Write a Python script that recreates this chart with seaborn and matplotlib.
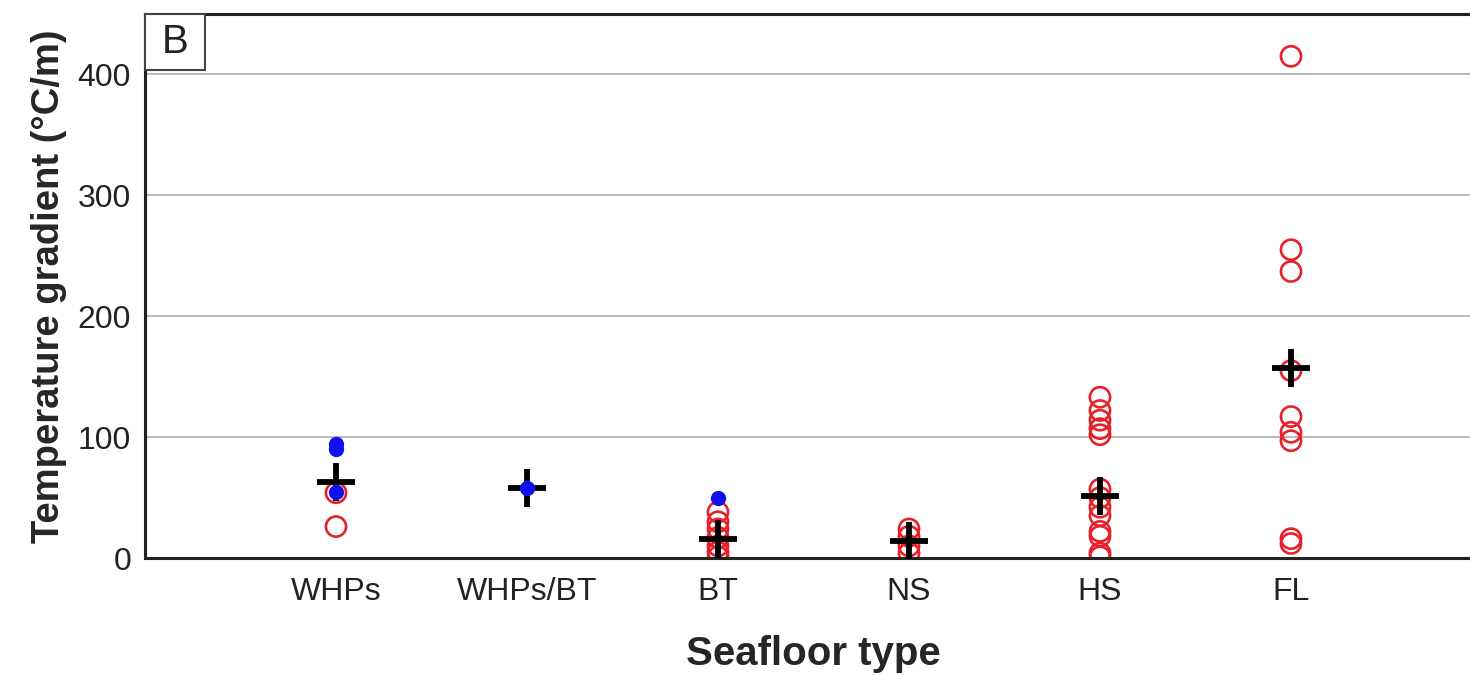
import numpy as np
import pandas as pd
import matplotlib
matplotlib.use("Agg")
import matplotlib.pyplot as plt
from matplotlib.patches import Rectangle
import seaborn as sns

# Seafloor categories
categories = ["WHPs", "WHPs/BT", "BT", "NS", "HS", "FL"]

# Open red circles (temperature gradient, degC/m)
red_whps = [54, 26]
red_bt = [38, 30, 24, 17, 10, 5, 1]
red_ns = [24, 18, 10, 4]
red_hs = [133, 122, 114, 107, 102, 57, 50, 42, 35, 22, 18, 4, 1]
red_fl = [415, 255, 237, 155, 117, 104, 97, 16, 12]

# Filled blue dots
blue_whps = [94, 90, 55]
blue_whpsbt = [58]
blue_bt = [50]

# Crosses (central value per category)
cross_vals = [63, 58, 16, 14, 51, 157]

yticks = [0, 100, 200, 300, 400]


def long_table(groups):
    rows = []
    for cat, vals in groups.items():
        for v in vals:
            rows.append({"type": cat, "grad": v})
    return pd.DataFrame(rows)


def main():
    red_df = long_table({"WHPs": red_whps, "BT": red_bt, "NS": red_ns,
                         "HS": red_hs, "FL": red_fl})
    blue_df = long_table({"WHPs": blue_whps, "WHPs/BT": blue_whpsbt, "BT": blue_bt})
    cross_df = pd.DataFrame({"type": categories, "grad": cross_vals})

    sns.set_style("white")
    plt.rcParams["font.family"] = ["Liberation Sans", "DejaVu Sans"]

    fig = plt.figure(figsize=(14.7, 6.75), dpi=100)
    ax = fig.add_axes([145 / 1470, 117 / 675, 1337 / 1470, 544 / 675])

    # grid lines
    for y in yticks[1:]:
        ax.axhline(y, color="#bbbbbb", lw=1.5, zorder=0)

    # red open circles
    n_before = len(ax.collections)
    sns.stripplot(data=red_df, x="type", y="grad", order=categories,
                  jitter=False, color="red", size=14.5, ax=ax, zorder=2)
    for coll in ax.collections[n_before:]:
        coll.set_facecolor("none")
        coll.set_edgecolor("#e8202a")
        coll.set_linewidth(1.9)

    # crosses
    sns.stripplot(data=cross_df, x="type", y="grad", order=categories,
                  jitter=False, color="black", marker="+", size=28,
                  linewidth=4.2, ax=ax, zorder=3)

    # blue filled dots (on top of the crosses)
    sns.stripplot(data=blue_df, x="type", y="grad", order=categories,
                  jitter=False, color="#1010ee", size=11, linewidth=0,
                  ax=ax, zorder=4)

    ax.set_xlim(-1, 6)
    ax.set_ylim(0, 450)
    ax.set_yticks(yticks)
    ax.tick_params(axis="both", direction="in", length=7, width=1.5,
                   labelsize=23, colors="black", pad=10)
    ax.tick_params(axis="x", pad=14)
    for lab in ax.get_xticklabels() + ax.get_yticklabels():
        lab.set_color("#222222")

    for side in ["left", "bottom", "top"]:
        ax.spines[side].set_visible(True)
        ax.spines[side].set_linewidth(2.2)
        ax.spines[side].set_color("#222222")
    ax.spines["right"].set_visible(False)

    ax.set_xlabel("Seafloor type", fontsize=29, fontweight="bold", labelpad=20)
    ax.set_ylabel("Temperature gradient (\u00b0C/m)", fontsize=27.5,
                  fontweight="bold", labelpad=8)

    # panel letter in a box at the top-left corner
    bw, bh = 60 / 1337, 56 / 544
    ax.add_patch(Rectangle((0, 1 - bh), bw, bh, transform=ax.transAxes,
                           fc="white", ec="#444444", lw=1.5, zorder=5,
                           clip_on=False))
    ax.text(bw / 2, 1 - bh / 2, "B", transform=ax.transAxes, fontsize=29,
            ha="center", va="center", color="#222222", zorder=6)

    fig.savefig("out.png", dpi=100)
    plt.close(fig)


if __name__ == "__main__":
    main()
